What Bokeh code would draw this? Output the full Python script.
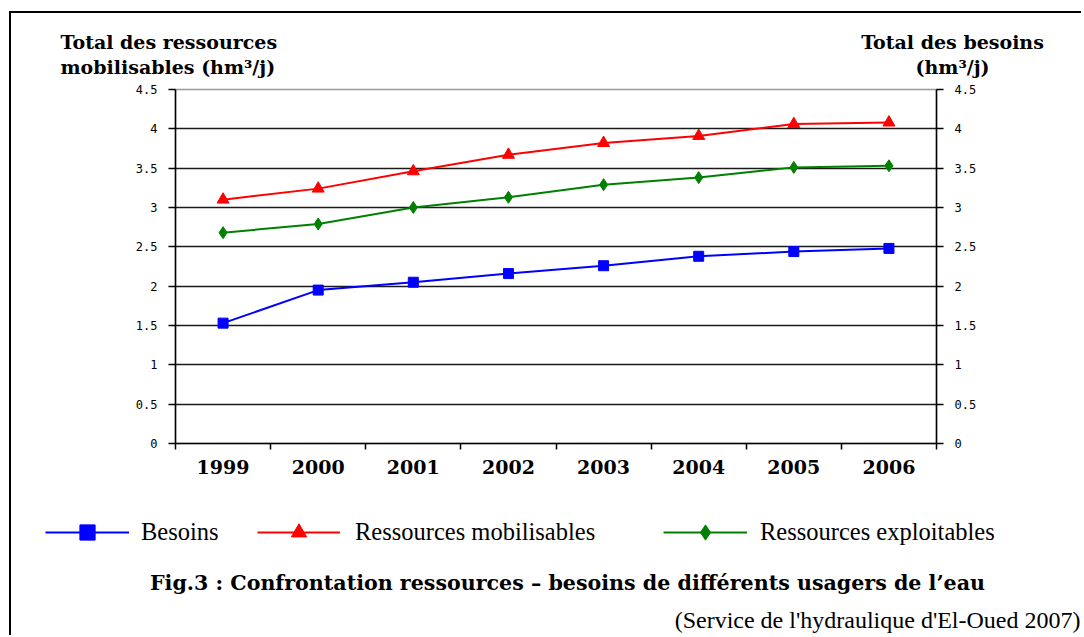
from bokeh.plotting import figure
from bokeh.layouts import column
from bokeh.models import (Range1d, LinearAxis, FixedTicker, CustomJSTickFormatter,
                          NumeralTickFormatter, Label, Legend, LegendItem)
from bokeh.embed import file_html
from bokeh.resources import INLINE

# ---- data ----
years = ["1999", "2000", "2001", "2002", "2003", "2004", "2005", "2006"]
besoins = [1.53, 1.95, 2.05, 2.16, 2.26, 2.38, 2.44, 2.48]
mobilisables = [3.10, 3.24, 3.46, 3.67, 3.82, 3.91, 4.06, 4.08]
exploitables = [2.68, 2.79, 3.00, 3.13, 3.29, 3.38, 3.51, 3.53]
y_ticks = [0, 0.5, 1, 1.5, 2, 2.5, 3, 3.5, 4, 4.5]

series_names = ["Besoins", "Ressources mobilisables", "Ressources exploitables"]
left_title = ["Total des ressources", "mobilisables (hm\u00b3/j)"]
right_title = ["Total des besoins", "(hm\u00b3/j)"]
caption = "Fig.3 : Confrontation ressources \u2013 besoins de diff\u00e9rents usagers de l\u2019eau"
source = "(Service de l'hydraulique d'El-Oued 2007)"

xs = [i + 0.5 for i in range(len(years))]

# page geometry
OX, OY = 11, 13          # content origin on the page (inside the border)
WW = 1070                # content width
TOP_H = 68               # title strip  (page y 13..81)
CH_TOP = OY + TOP_H      # 81
CH_H = 409               # chart figure (page y 81..490)
BOT_TOP = CH_TOP + CH_H  # 490
BOT_H = 145              # bottom strip (page y 490..635)
FL, FR, FT, FB = 175, 936, 89, 443   # frame on page

SERIF = "DejaVu Serif"
SERIF_REG = "Liberation Serif"


def strip(h):
    f = figure(width=WW, height=h, output_backend="svg", toolbar_location=None,
               x_range=Range1d(0, WW), y_range=Range1d(h, 0),
               min_border=0, x_axis_location=None, y_axis_location=None)
    f.outline_line_color = None
    f.grid.visible = False
    f.background_fill_color = "white"
    f.border_fill_color = "white"
    return f


def add_text(fig, y0, txt, px, py, align="left", size="19px", style="bold", font=SERIF):
    fig.add_layout(Label(x=px - OX, y=py - y0, text=txt, text_align=align,
                         text_baseline="alphabetic", text_font=font,
                         text_font_style=style, text_font_size=size,
                         text_color="black"))


# ---- top strip: axis titles ----
top = strip(TOP_H)
add_text(top, OY, left_title[0], 60, 41)
add_text(top, OY, left_title[1], 60, 66)
add_text(top, OY, right_title[0], 952, 41, align="center")
add_text(top, OY, right_title[1], 952, 66, align="center")

# ---- chart ----
p = figure(width=WW, height=CH_H, output_backend="svg", toolbar_location=None,
           x_range=Range1d(0, len(years)), y_range=Range1d(0, 4.5),
           min_border_left=FL - OX, min_border_right=WW - (FR - OX),
           min_border_top=FT - CH_TOP, min_border_bottom=BOT_TOP - FB,
           x_axis_location=None, y_axis_location=None)
p.background_fill_color = "white"
p.border_fill_color = "white"
p.outline_line_color = "#9a9a9a"
p.outline_line_width = 1.5

xaxis = LinearAxis(ticker=FixedTicker(ticks=xs, minor_ticks=list(range(len(years) + 1))),
                   formatter=CustomJSTickFormatter(args=dict(years=years),
                                                   code="return years[Math.floor(tick)];"))
xaxis.major_tick_out = 0
xaxis.major_tick_in = 0
xaxis.minor_tick_out = 6
xaxis.minor_tick_in = 0
xaxis.minor_tick_line_color = "black"
xaxis.minor_tick_line_width = 1.5
xaxis.axis_line_color = "black"
xaxis.axis_line_width = 1.5
xaxis.major_label_text_font = SERIF
xaxis.major_label_text_font_style = "bold"
xaxis.major_label_text_font_size = "19px"
xaxis.major_label_text_color = "black"
xaxis.major_label_standoff = 10
p.add_layout(xaxis, "below")

p.extra_y_ranges = {"right": Range1d(0, 4.5)}
for side, rng in (("left", "default"), ("right", "right")):
    ax = LinearAxis(y_range_name=rng, ticker=FixedTicker(ticks=y_ticks, minor_ticks=[]),
                    formatter=NumeralTickFormatter(format="0.[0]"))
    ax.major_tick_out = 7
    ax.major_tick_in = 0
    ax.major_tick_line_color = "black"
    ax.major_tick_line_width = 1.5
    ax.axis_line_color = "black"
    ax.axis_line_width = 1.5
    ax.major_label_text_font = "DejaVu Sans Mono"
    ax.major_label_text_font_size = "12px"
    ax.major_label_text_color = "black"
    ax.major_label_standoff = 11
    p.add_layout(ax, side)

p.xgrid.visible = False
p.ygrid.ticker = FixedTicker(ticks=y_ticks[1:-1])
p.ygrid.grid_line_color = "#1a1a1a"
p.ygrid.grid_line_width = 1.3

colors = ["#0000ff", "#ff0000", "#008000"]
markers = ["square", "triangle", "diamond"]
sizes = [10, 12, 12]
data = [besoins, mobilisables, exploitables]
for vals, c, m, s in zip(data, colors, markers, sizes):
    p.line(xs, vals, line_color=c, line_width=2)
    p.scatter(xs, vals, marker=m, size=s, fill_color=c, line_color=c)

# ---- bottom strip: legend, caption, source ----
bot = strip(BOT_H)
leg_specs = [(45, 84, 12), (257, 83, 15), (663, 84, 13)]
for (gx, gw, stand), name, vals, c, m in zip(leg_specs, series_names, data, colors, markers):
    # hidden proxies of the series, used only for the legend swatches
    ln = bot.line(xs, vals, line_color=c, line_width=2, visible=False)
    sc = bot.scatter(xs, vals, marker=m, fill_color=c, line_color=c, visible=False)
    lg = Legend(items=[LegendItem(label=name, renderers=[ln, sc])],
                location=(gx - OX, (BOT_TOP + BOT_H) - 551), orientation="horizontal",
                glyph_width=gw, glyph_height=38, label_standoff=stand,
                padding=0, margin=0, spacing=0,
                border_line_alpha=0, background_fill_alpha=0,
                inactive_fill_alpha=0,
                label_text_font=SERIF_REG, label_text_font_size="24.5px",
                label_text_color="black", label_height=38)
    bot.add_layout(lg)

add_text(bot, BOT_TOP, caption, 567, 582, align="center", size="20.6px")
add_text(bot, BOT_TOP, source, 1080, 619, align="right", size="24px", style="normal",
         font=SERIF_REG)

layout = column(top, column(p), bot, spacing=0,
                styles={"margin-left": "9px", "margin-top": "11px",
                        "border-left": "2px solid black", "border-top": "2px solid black"})

open("out.html", "w").write(file_html(layout, INLINE))
